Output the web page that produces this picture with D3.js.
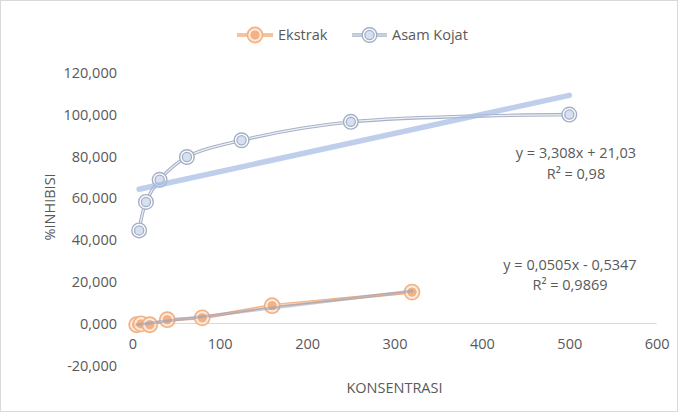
<!DOCTYPE html>
<html><head><meta charset="utf-8">
<script src="https://cdn.jsdelivr.net/npm/d3@7"></script>
<style>body{margin:0;background:#fff}svg{display:block}</style>
</head><body>
<script>
const xEkstrak = [5, 10, 20, 40, 80, 160, 320];
const yEkstrak = [-0.6, -0.2, -0.6, 1.8, 2.7, 8.5, 15.0];
const xKojat = [7.8125, 15.625, 31.25, 62.5, 125, 250, 500];
const yKojat = [44.5, 58.1, 68.7, 79.6, 87.6, 96.4, 99.9];
const xTicks = [0, 100, 200, 300, 400, 500, 600];
const yTicks = [-20, 0, 20, 40, 60, 80, 100, 120];
const seriesNames = ["Ekstrak", "Asam Kojat"];
const eqKojat = ["y = 3,308x + 21,03", "R² = 0,98"];
const eqEkstrak = ["y = 0,0505x - 0,5347", "R² = 0,9869"];
const xTitle = "KONSENTRASI", yTitle = "%INHIBISI";

const W = 678, H = 412;
const FONT = "'Open Sans', sans-serif";
const TXT = "#595959";
const svg = d3.select("body").append("svg").attr("width", W).attr("height", H);
svg.append("rect").attr("x", 0.5).attr("y", 0.5).attr("width", W - 1).attr("height", H - 1)
  .attr("fill", "#fff").attr("stroke", "#d9d9d9");

const x = d3.scaleLinear().domain([0, 600]).range([132.3, 656.7]);
const y = d3.scaleLinear().domain([-20, 120]).range([365.3, 72.5]);

const loc = d3.formatLocale({decimal: ",", thousands: ".", grouping: [3], currency: ["", ""], minus: "-"});
const fmt = loc.format(".3f");

// zero line
svg.append("line").attr("x1", x(0) - 4).attr("x2", x(600)).attr("y1", y(0)).attr("y2", y(0))
  .attr("stroke", "#d9d9d9").attr("stroke-width", 1);

// y axis labels
const yAx = d3.axisLeft(y).tickValues(yTicks).tickFormat(fmt).tickSize(0).tickPadding(0);
const gy = svg.append("g").attr("transform", "translate(117,0)").call(yAx);
gy.select(".domain").remove();
gy.selectAll("text").attr("font-family", FONT).attr("font-size", 14.5).attr("fill", TXT).attr("dy", "0.34em");

// x axis labels
const xAx = d3.axisBottom(x).tickValues(xTicks).tickFormat(d3.format("d")).tickSize(0).tickPadding(0);
const gx = svg.append("g").attr("transform", "translate(0,339)").call(xAx);
gx.select(".domain").remove();
gx.selectAll("text").attr("font-family", FONT).attr("font-size", 14.5).attr("fill", TXT).attr("dy", "0.71em");

// axis titles
svg.append("text").attr("x", (x(0) + x(600)) / 2).attr("y", 393).attr("text-anchor", "middle")
  .attr("font-family", FONT).attr("font-size", 14.5).attr("fill", TXT).text(xTitle);
svg.append("text").attr("transform", `translate(55,${(y(-20) + y(120)) / 2 - 12}) rotate(-90)`)
  .attr("text-anchor", "middle").attr("font-family", FONT).attr("font-size", 14.5).attr("fill", TXT).text(yTitle);

const ek = xEkstrak.map((v, i) => [v, yEkstrak[i]]);
const kj = xKojat.map((v, i) => [v, yKojat[i]]);

// series lines
const lineStraight = d3.line().x(d => x(d[0])).y(d => y(d[1]));
const lineSmooth = d3.line().x(d => x(d[0])).y(d => y(d[1])).curve(d3.curveCatmullRom.alpha(0.5));

function doubleLine(path, outer, inner) {
  svg.append("path").attr("d", path).attr("fill", "none").attr("stroke", outer).attr("stroke-width", 3.4);
  svg.append("path").attr("d", path).attr("fill", "none").attr("stroke", inner).attr("stroke-width", 1.2);
}
doubleLine(lineSmooth(kj), "#a7b1c6", "#eef1f6");
doubleLine(lineStraight(ek), "#f4b183", "#f8d2b6");

// markers
function kojatMarker(cx, cy) {
  svg.append("circle").attr("cx", cx).attr("cy", cy).attr("r", 7.3).attr("fill", "#fff")
    .attr("stroke", "#a3afc6").attr("stroke-width", 1.4);
  svg.append("circle").attr("cx", cx).attr("cy", cy).attr("r", 4.6).attr("fill", "#d6e0f0")
    .attr("stroke", "#a3afc6").attr("stroke-width", 1.3);
}
function ekstrakMarker(cx, cy) {
  svg.append("circle").attr("cx", cx).attr("cy", cy).attr("r", 7.6).attr("fill", "#fbe3d2")
    .attr("stroke", "#f4b183").attr("stroke-width", 1.6);
  svg.append("circle").attr("cx", cx).attr("cy", cy).attr("r", 5.2).attr("fill", "#f4b183")
    .attr("stroke", "#fff").attr("stroke-width", 0.8);
}
kj.forEach(d => kojatMarker(x(d[0]), y(d[1])));
ek.forEach(d => ekstrakMarker(x(d[0]), y(d[1])));

// linear trendlines (least squares)
function fit(pts) {
  const mx = d3.mean(pts, d => d[0]), my = d3.mean(pts, d => d[1]);
  const sxy = d3.sum(pts, d => (d[0] - mx) * (d[1] - my));
  const sxx = d3.sum(pts, d => (d[0] - mx) ** 2);
  const b = sxy / sxx, a = my - b * mx;
  const x0 = d3.min(pts, d => d[0]), x1 = d3.max(pts, d => d[0]);
  return [[x0, a + b * x0], [x1, a + b * x1]];
}
svg.append("path").attr("d", lineStraight(fit(kj))).attr("fill", "none")
  .attr("stroke", "#a9bee3").attr("stroke-opacity", 0.75).attr("stroke-width", 5.5).attr("stroke-linecap", "round");
svg.append("path").attr("d", lineStraight(fit(ek))).attr("fill", "none")
  .attr("stroke", "#8f9fbd").attr("stroke-opacity", 0.55).attr("stroke-width", 3).attr("stroke-linecap", "round");

// equations
function eq(lines, cx, ys) {
  lines.forEach((t, i) => svg.append("text").attr("x", cx).attr("y", ys[i]).attr("text-anchor", "middle")
    .attr("font-family", FONT).attr("font-size", 14.5).attr("fill", TXT).attr("dy", "0.35em").text(t));
}
eq(eqKojat, 576, [153, 174]);
eq(eqEkstrak, 570, [265, 285]);

// legend
const lg = svg.append("g");
function legendItem(x0, x1, kind, label, tx) {
  const cy = 35;
  if (kind === 0) {
    lg.append("line").attr("x1", x0).attr("x2", x1).attr("y1", cy).attr("y2", cy).attr("stroke", "#f4b183").attr("stroke-width", 3.4);
    lg.append("line").attr("x1", x0).attr("x2", x1).attr("y1", cy).attr("y2", cy).attr("stroke", "#f8d2b6").attr("stroke-width", 1.2);
    ekstrakMarker((x0 + x1) / 2, cy);
  } else {
    lg.append("line").attr("x1", x0).attr("x2", x1).attr("y1", cy).attr("y2", cy).attr("stroke", "#a7b1c6").attr("stroke-width", 3.4);
    lg.append("line").attr("x1", x0).attr("x2", x1).attr("y1", cy).attr("y2", cy).attr("stroke", "#eef1f6").attr("stroke-width", 1.2);
    kojatMarker((x0 + x1) / 2, cy);
  }
  lg.append("text").attr("x", tx).attr("y", cy).attr("dy", "0.35em").attr("font-family", FONT)
    .attr("font-size", 14.5).attr("fill", TXT).text(label);
}
legendItem(237, 273, 0, seriesNames[0], 278);
legendItem(352, 387, 1, seriesNames[1], 392);
</script>
</body></html>
